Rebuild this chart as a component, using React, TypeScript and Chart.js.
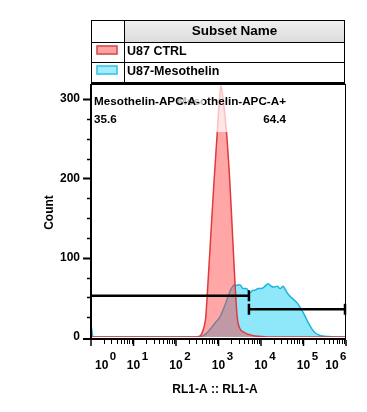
import React, { useEffect, useRef } from "react";
import { Chart, registerables } from "chart.js";

Chart.register(...registerables);

const FONT = '"Liberation Sans", Arial, Helvetica, sans-serif';

// ---------- data ----------
const seriesNames = ["U87 CTRL", "U87-Mesothelin"];

// U87 CTRL histogram (RL1-A value, count)
const ctrlX = [1, 282, 363, 427, 501, 562, 661, 776, 933, 1047, 1135, 1288, 1549, 1862, 2138, 2455, 2754, 3162, 3981, 4677, 6310, 8511, 15849, 1000000];
const ctrlY = [0, 0, 1, 7.5, 25, 66, 129, 192, 257, 299, 317, 299, 257, 192, 129, 66, 25, 11, 6, 4, 2, 1, 0, 0];

// U87-Mesothelin histogram (RL1-A value, count)
const mesoX = [1, 1.12, 363, 479, 617, 813, 1072, 1413, 1660, 1950, 2188, 2399, 2692, 3162, 3802, 4467, 5623, 6457, 7244, 8511, 10000, 11749, 14791, 17378, 20417, 23988, 28184, 33113, 37154, 43652, 53703, 70795, 93325, 109648, 128825, 158489, 190546, 245471, 380189, 562341, 1000000];
const mesoY = [16, 0, 0, 3, 9, 17, 25, 40, 50, 60, 64, 66, 65, 66, 61, 61, 56, 59, 59, 61, 61, 63, 67, 64, 63, 64, 61, 64, 60, 54, 49, 43, 33, 26, 18, 10, 5, 2, 0.5, 0, 0];

const xTickExponents = [0, 1, 2, 3, 4, 5, 6];
const yTickLabels = [0, 100, 200, 300];
const yMinorStep = 25;

const gateNames = ["Mesothelin-APC-A-", "Mesothelin-APC-A+"];
const gatePercents = ["35.6", "64.4"];
const gateBoundary = 5200;
const gateLevels = [52, 35];

const legendHeader = "Subset Name";
const xTitle = "RL1-A :: RL1-A";
const yTitle = "Count";

// ---------- styles ----------
const RED_FILL = "rgba(255, 60, 60, 0.45)";
const RED_LINE = "#e0393e";
const BLUE_FILL = "rgba(20, 205, 245, 0.48)";
const BLUE_LINE = "#1eb4dc";
const SWATCH = [
  { fill: "#ffa3a3", line: "#cf4a4a" },
  { fill: "#a3ecff", line: "#2fc3e3" },
];

const toPoints = (xs: number[], ys: number[]) => xs.map((v, i) => ({ x: v, y: ys[i] }));

const overlayPlugin = {
  id: "flowOverlay",
  afterDatasetsDraw(chart: any) {
    const { ctx, chartArea: ca, scales } = chart;
    const xs = scales.x;
    const ys = scales.y;
    ctx.save();

    // gate labels with semi-transparent backgrounds
    ctx.font = `bold 11.7px ${FONT}`;
    ctx.textBaseline = "middle";
    const w1 = ctx.measureText(gateNames[0]).width;
    const w2 = ctx.measureText(gateNames[1]).width;
    const l1 = ca.left + 3;
    const r2 = 286;
    const boxTop = ca.top + 1;
    const boxBot = 132;
    ctx.fillStyle = "rgba(255,255,255,0.7)";
    ctx.fillRect(r2 - w2 - 3, boxTop, w2 + 6, boxBot - boxTop);
    ctx.fillStyle = "#000";
    ctx.textAlign = "right";
    ctx.fillText(gateNames[1], r2, 102);
    ctx.fillText(gatePercents[1], r2, 120);
    ctx.fillStyle = "rgba(255,255,255,0.7)";
    ctx.fillRect(ca.left + 1, boxTop, l1 + w1 + 3 - ca.left - 1, boxBot - boxTop);
    ctx.fillStyle = "#000";
    ctx.textAlign = "left";
    ctx.fillText(gateNames[0], l1, 102);
    ctx.fillText(gatePercents[0], l1, 120);

    // gates
    const xb = xs.getPixelForValue(gateBoundary);
    const gy1 = ys.getPixelForValue(gateLevels[0]);
    const gy2 = ys.getPixelForValue(gateLevels[1]);
    ctx.strokeStyle = "#000";
    ctx.lineWidth = 2.5;
    ctx.lineCap = "butt";
    ctx.beginPath();
    ctx.moveTo(ca.left, gy1);
    ctx.lineTo(xb, gy1);
    ctx.moveTo(xb, gy1 - 5.5);
    ctx.lineTo(xb, gy1 + 5.5);
    ctx.moveTo(xb, gy2);
    ctx.lineTo(ca.right, gy2);
    ctx.moveTo(xb, gy2 - 5.5);
    ctx.lineTo(xb, gy2 + 5.5);
    ctx.moveTo(ca.right - 1, gy2 - 5.5);
    ctx.lineTo(ca.right - 1, gy2 + 5.5);
    ctx.stroke();

    // frame
    ctx.lineWidth = 1;
    ctx.beginPath();
    ctx.moveTo(ca.left, ca.top + 0.5);
    ctx.lineTo(ca.right, ca.top + 0.5);
    ctx.moveTo(ca.right - 0.5, ca.top);
    ctx.lineTo(ca.right - 0.5, ca.bottom + 2);
    ctx.stroke();
    ctx.lineWidth = 2;
    ctx.beginPath();
    ctx.moveTo(ca.left, ca.top);
    ctx.lineTo(ca.left, ca.bottom + 3);
    ctx.moveTo(ca.left - 1, ca.bottom + 2);
    ctx.lineTo(ca.right, ca.bottom + 2);
    ctx.stroke();

    // y ticks
    const yMax = yTickLabels[yTickLabels.length - 1];
    for (let v = 0; v <= yMax; v += yMinorStep) {
      const py = Math.round(ys.getPixelForValue(v)) + 0.5;
      const major = yTickLabels.includes(v);
      ctx.lineWidth = major ? 2 : 1.5;
      ctx.beginPath();
      ctx.moveTo(ca.left - (major ? 8 : 4), v === 0 ? ca.bottom + 2 : py);
      ctx.lineTo(ca.left, v === 0 ? ca.bottom + 2 : py);
      ctx.stroke();
    }

    // x ticks (log)
    const axisY = ca.bottom + 3;
    for (let i = 0; i < xTickExponents.length; i++) {
      const e = xTickExponents[i];
      const dec = Math.pow(10, e);
      const px = xs.getPixelForValue(dec);
      ctx.lineWidth = 1.5;
      ctx.beginPath();
      ctx.moveTo(px, axisY);
      ctx.lineTo(px, axisY + 6);
      ctx.stroke();
      if (i < xTickExponents.length - 1) {
        ctx.lineWidth = 1;
        for (let m = 2; m <= 9; m++) {
          const mx = Math.round(xs.getPixelForValue(m * dec)) + 0.5;
          ctx.beginPath();
          ctx.moveTo(mx, axisY);
          ctx.lineTo(mx, axisY + 4);
          ctx.stroke();
        }
      }
    }

    // x tick labels with superscripts
    ctx.fillStyle = "#000";
    ctx.textAlign = "left";
    ctx.textBaseline = "middle";
    for (const e of xTickExponents) {
      const px = xs.getPixelForValue(Math.pow(10, e));
      const base = "10";
      const sup = String(e);
      ctx.font = `bold 12px ${FONT}`;
      const wb = ctx.measureText(base).width;
      ctx.font = `bold 11.5px ${FONT}`;
      const ws = ctx.measureText(sup).width;
      let left = px - wb / 2;
      if (left < ca.left + 4) left = ca.left + 4;
      if (left + wb + 1 + ws > ca.right) left = ca.right - ws - 1 - wb;
      ctx.font = `bold 12px ${FONT}`;
      ctx.fillText(base, left, 366);
      ctx.font = `bold 11.5px ${FONT}`;
      ctx.fillText(sup, left + wb + 1.5, 357);
    }

    // axis titles
    ctx.font = `bold 12px ${FONT}`;
    ctx.textAlign = "center";
    ctx.fillText(xTitle, 215, 390);
    ctx.save();
    ctx.translate(50, (ca.top + ca.bottom) / 2 + 2);
    ctx.rotate(-Math.PI / 2);
    ctx.fillText(yTitle, 0, 0);
    ctx.restore();

    // legend table
    const tL = 91, tR = 345, tT = 20, hB = 42, r1B = 62, r2B = 82, cD = 124;
    const grad = ctx.createLinearGradient(0, tT, 0, hB);
    grad.addColorStop(0, "#f0f0f0");
    grad.addColorStop(1, "#dcdcdc");
    ctx.fillStyle = grad;
    ctx.fillRect(cD, tT, tR - cD, hB - tT);
    ctx.strokeStyle = "#000";
    ctx.lineWidth = 1;
    ctx.beginPath();
    ctx.moveTo(tL + 0.5, tT);
    ctx.lineTo(tL + 0.5, r2B);
    ctx.moveTo(tR - 0.5, tT);
    ctx.lineTo(tR - 0.5, r2B);
    ctx.moveTo(cD + 0.5, tT);
    ctx.lineTo(cD + 0.5, r2B);
    ctx.moveTo(tL, tT + 0.5);
    ctx.lineTo(tR, tT + 0.5);
    ctx.moveTo(tL, hB + 0.5);
    ctx.lineTo(tR, hB + 0.5);
    ctx.moveTo(tL, r1B + 0.5);
    ctx.lineTo(tR, r1B + 0.5);
    ctx.stroke();
    ctx.lineWidth = 2;
    ctx.beginPath();
    ctx.moveTo(tL, r2B + 1);
    ctx.lineTo(tR, r2B + 1);
    ctx.stroke();

    ctx.fillStyle = "#000";
    ctx.font = `bold 13.5px ${FONT}`;
    ctx.textAlign = "center";
    ctx.fillText(legendHeader, (cD + tR) / 2, 31.5);

    const rowTops = [hB, r1B];
    ctx.font = `bold 12.5px ${FONT}`;
    ctx.textAlign = "left";
    seriesNames.forEach((name, i) => {
      const rt = rowTops[i];
      ctx.save();
      ctx.shadowColor = SWATCH[i].fill;
      ctx.shadowBlur = 2;
      ctx.fillStyle = SWATCH[i].fill;
      ctx.fillRect(97, rt + 4, 20, 8);
      ctx.restore();
      ctx.strokeStyle = SWATCH[i].line;
      ctx.lineWidth = 1.5;
      ctx.strokeRect(97, rt + 4, 20, 8);
      ctx.fillStyle = "#000";
      ctx.fillText(name, 127, rt + 10);
    });

    ctx.restore();
  },
};

export default function App() {
  const canvasRef = useRef<HTMLCanvasElement | null>(null);

  useEffect(() => {
    if (!canvasRef.current) return;
    const chart = new Chart(canvasRef.current, {
      type: "line",
      data: {
        datasets: [
          {
            label: seriesNames[0],
            data: toPoints(ctrlX, ctrlY),
            borderColor: RED_LINE,
            backgroundColor: RED_FILL,
            borderWidth: 1.5,
            fill: "origin",
            pointRadius: 0,
            cubicInterpolationMode: "monotone",
            order: 0,
          },
          {
            label: seriesNames[1],
            data: toPoints(mesoX, mesoY),
            borderColor: BLUE_LINE,
            backgroundColor: BLUE_FILL,
            borderWidth: 1.5,
            fill: "origin",
            pointRadius: 0,
            cubicInterpolationMode: "monotone",
            order: 1,
          },
        ],
      },
      options: {
        animation: false,
        responsive: false,
        events: [],
        layout: { padding: { top: 84, right: 21, left: 0, bottom: 0 } },
        plugins: { legend: { display: false }, tooltip: { enabled: false } },
        scales: {
          x: {
            type: "logarithmic",
            min: 1,
            max: 1000000,
            border: { display: false },
            grid: { display: false },
            ticks: { display: false },
            afterFit: (s: any) => {
              s.height = 412 - 337;
            },
          },
          y: {
            type: "linear",
            min: 0,
            max: 319,
            border: { display: false },
            grid: { display: false, drawTicks: false },
            ticks: {
              stepSize: 100,
              includeBounds: false,
              padding: 11,
              color: "#000",
              font: { family: FONT, size: 12, weight: "bold" },
              callback: (v: any) => (yTickLabels.includes(Number(v)) ? String(v) : ""),
            },
            afterFit: (s: any) => {
              s.width = 91;
            },
          },
        },
      },
      plugins: [overlayPlugin],
    } as any);
    return () => chart.destroy();
  }, []);

  return (
    <div style={{ position: "absolute", left: 0, top: 0, width: 367, height: 412, background: "#fff" }}>
      <canvas ref={canvasRef} width={367} height={412} style={{ display: "block" }} />
    </div>
  );
}
